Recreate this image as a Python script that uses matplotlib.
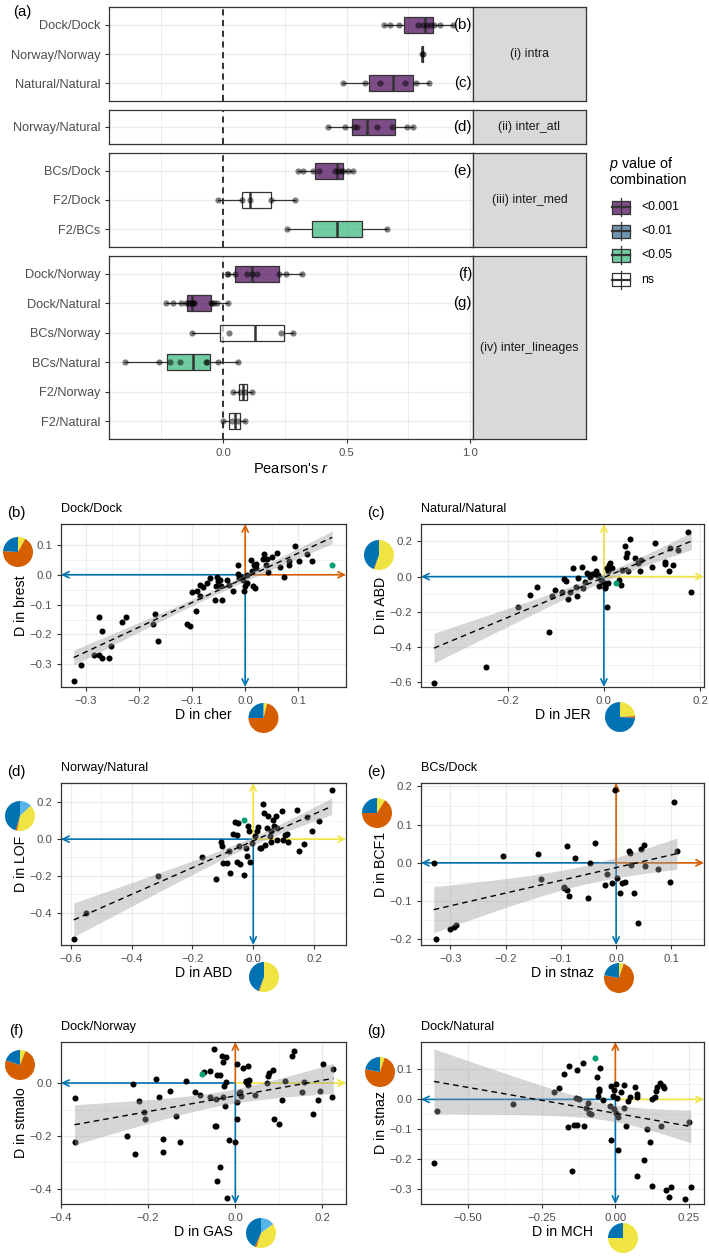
import numpy as np
import matplotlib.pyplot as plt
from matplotlib.colors import to_rgba
from matplotlib.patches import Rectangle

plt.rcParams['font.family'] = ['Liberation Sans', 'DejaVu Sans']
plt.rcParams['mathtext.fontset'] = 'custom'
plt.rcParams['mathtext.it'] = 'Liberation Sans:italic'
plt.rcParams['mathtext.rm'] = 'Liberation Sans'

# ---------------- data: panel (a), Pearson's r per combination ----------------
facet_names = ['(i) intra', '(ii) inter_atl', '(iii) inter_med', '(iv) inter_lineages']
facet_rows = [['Dock/Dock', 'Norway/Norway', 'Natural/Natural'],
              ['Norway/Natural'],
              ['BCs/Dock', 'F2/Dock', 'F2/BCs'],
              ['Dock/Norway', 'Dock/Natural', 'BCs/Norway', 'BCs/Natural', 'F2/Norway', 'F2/Natural']]

r_dock_dock = [0.652, 0.674, 0.714, 0.79, 0.81, 0.825, 0.84, 0.855, 0.88, 0.93]
r_norway_norway = [0.805, 0.81]
r_natural_natural = [0.485, 0.574, 0.636, 0.738, 0.781, 0.835]
r_norway_natural = [0.427, 0.495, 0.53, 0.544, 0.622, 0.683, 0.744, 0.771]
r_bcs_dock = [0.302, 0.323, 0.366, 0.389, 0.455, 0.465, 0.478, 0.487, 0.505, 0.528]
r_f2_dock = [-0.019, 0.078, 0.109, 0.193, 0.291]
r_f2_bcs = [0.258, 0.663]
r_dock_norway = [0.015, 0.022, 0.05, 0.096, 0.116, 0.136, 0.228, 0.255, 0.321]
r_dock_natural = [-0.232, -0.201, -0.170, -0.150, -0.140, -0.134, -0.127, -0.123,
                  -0.118, -0.05, -0.046, -0.035, -0.023, 0.021]
r_bcs_norway = [-0.127, 0.024, 0.235, 0.282]
r_bcs_natural = [-0.397, -0.258, -0.215, -0.174, -0.07, -0.063, -0.019, 0.062]
r_f2_norway = [0.042, 0.07, 0.09, 0.116]
r_f2_natural = [0.0, 0.035, 0.06, 0.089]

r_values = {'Dock/Dock': r_dock_dock, 'Norway/Norway': r_norway_norway,
            'Natural/Natural': r_natural_natural, 'Norway/Natural': r_norway_natural,
            'BCs/Dock': r_bcs_dock, 'F2/Dock': r_f2_dock, 'F2/BCs': r_f2_bcs,
            'Dock/Norway': r_dock_norway, 'Dock/Natural': r_dock_natural,
            'BCs/Norway': r_bcs_norway, 'BCs/Natural': r_bcs_natural,
            'F2/Norway': r_f2_norway, 'F2/Natural': r_f2_natural}

p_class = {'Dock/Dock': '<0.001', 'Norway/Norway': '<0.001', 'Natural/Natural': '<0.001',
           'Norway/Natural': '<0.001', 'BCs/Dock': '<0.001', 'F2/Dock': 'ns',
           'F2/BCs': '<0.05', 'Dock/Norway': '<0.001', 'Dock/Natural': '<0.001',
           'BCs/Norway': 'ns', 'BCs/Natural': '<0.05', 'F2/Norway': 'ns', 'F2/Natural': 'ns'}
p_levels = ['<0.001', '<0.01', '<0.05', 'ns']
p_colors = ['#440154', '#31688E', '#35B779', '#FFFFFF']

panel_refs = {'Dock/Dock': '(b)', 'Natural/Natural': '(c)', 'Norway/Natural': '(d)',
              'BCs/Dock': '(e)', 'Dock/Norway': '(f)', 'Dock/Natural': '(g)'}

# ---------------- data: scatter panels (x, y) ----------------
pts_b = np.array([(-0.309, -0.302), (-0.284, -0.268), (-0.275, -0.268), (-0.270, -0.280), (-0.275, -0.140),
    (-0.269, -0.187), (-0.257, -0.280), (-0.253, -0.238), (-0.233, -0.157), (-0.225, -0.140),
    (-0.174, -0.164), (-0.169, -0.131), (-0.165, -0.221), (-0.110, -0.166), (-0.103, -0.170),
    (-0.101, -0.059), (-0.091, -0.056), (-0.092, -0.121), (-0.086, -0.070), (-0.085, -0.036),
    (-0.079, -0.041), (-0.072, -0.028), (-0.067, -0.011), (-0.057, -0.084), (-0.055, -0.039),
    (-0.053, -0.006), (-0.052, -0.022), (-0.048, -0.017), (-0.046, -0.039), (-0.043, -0.084),
    (-0.035, -0.017), (-0.030, -0.036), (-0.022, -0.056), (-0.013, 0.034), (-0.014, 0.003),
    (-0.011, -0.011), (-0.008, -0.006), (-0.003, -0.056), (0.000, -0.039), (0.003, 0.000),
    (-0.005, -0.017), (0.003, -0.028), (0.011, 0.050), (0.013, 0.011), (0.014, -0.037),
    (0.016, 0.034), (0.019, -0.045), (0.020, 0.022), (0.021, 0.037), (0.033, 0.053),
    (0.035, 0.069), (0.040, 0.034), (0.041, 0.053), (0.043, 0.008), (0.050, 0.059),
    (0.060, 0.073), (0.066, 0.026), (0.074, -0.008), (0.082, 0.034), (0.082, 0.047),
    (0.093, 0.097), (0.101, 0.045), (0.117, 0.069), (0.126, 0.046), (-0.323, -0.356)])
green_b = (0.164, 0.031)

pts_c = np.array([(-0.245, -0.515), (-0.114, -0.316), (-0.178, -0.170), (-0.154, -0.104), (-0.140, -0.057),
    (-0.107, -0.108), (-0.102, -0.076), (-0.088, -0.085), (-0.083, -0.015), (-0.079, -0.023),
    (-0.074, -0.125), (-0.071, -0.085), (-0.065, 0.051), (-0.057, -0.057), (-0.055, -0.110),
    (-0.053, -0.006), (-0.046, 0.057), (-0.043, -0.066), (-0.040, -0.028), (-0.035, 0.023),
    (-0.029, 0.000), (-0.024, 0.013), (-0.020, 0.108), (-0.017, 0.034), (-0.015, 0.009),
    (-0.012, 0.009), (-0.010, -0.053), (-0.005, -0.019), (-0.001, -0.028), (0.002, -0.057),
    (0.003, -0.066), (0.006, -0.170), (0.006, 0.047), (0.009, 0.034), (0.011, 0.066),
    (0.012, 0.076), (0.009, -0.038), (0.016, 0.047), (0.032, -0.019), (0.035, -0.047),
    (0.037, 0.038), (0.044, 0.174), (0.047, 0.133), (0.046, 0.114), (0.054, 0.214),
    (0.051, 0.032), (0.064, 0.104), (0.075, 0.032), (0.078, 0.095), (0.071, 0.076),
    (0.099, 0.053), (0.107, 0.193), (0.127, 0.085), (0.127, 0.072), (0.136, 0.032),
    (0.143, 0.064), (0.137, 0.161), (0.155, 0.152), (0.175, 0.256), (0.182, -0.089),
    (-0.353, -0.604)])
green_c = (0.026, -0.034)

pts_d = np.array([(-0.3125, -0.200), (-0.170, -0.095), (-0.123, -0.219), (-0.107, -0.013), (-0.104, -0.035),
    (-0.101, -0.128), (-0.086, -0.131), (-0.079, -0.067), (-0.075, -0.182), (-0.066, 0.029),
    (-0.055, 0.024), (-0.060, 0.091), (-0.049, 0.087), (-0.053, -0.122), (-0.046, -0.040),
    (-0.042, -0.135), (-0.030, -0.195), (-0.022, -0.091), (-0.024, -0.049), (-0.016, 0.069),
    (-0.013, 0.042), (-0.009, -0.122), (-0.005, -0.022), (0.005, 0.015), (0.011, 0.042),
    (0.016, 0.066), (0.022, -0.049), (0.027, -0.049), (0.031, 0.191), (0.035, 0.142),
    (0.038, -0.031), (0.044, 0.060), (0.049, 0.124), (0.055, 0.015), (0.060, -0.018),
    (0.060, 0.042), (0.064, 0.106), (0.068, 0.069), (0.075, 0.124), (0.079, -0.004),
    (0.093, 0.155), (0.099, -0.007), (0.104, 0.024), (0.112, 0.027), (0.115, -0.013),
    (0.143, 0.157), (0.151, -0.064), (0.167, -0.027), (0.178, 0.120), (0.192, 0.047),
    (0.217, 0.097), (0.258, 0.270), (0.077, 0.060), (-0.590, -0.545), (-0.55, -0.40)])
green_d = (-0.030, 0.106)

pts_e = np.array([(-0.330, 0.0), (-0.205, 0.017), (-0.142, 0.024), (-0.135, -0.041), (-0.095, -0.067),
    (-0.094, -0.063), (-0.089, -0.071), (-0.089, 0.044), (-0.086, -0.086), (-0.074, 0.013),
    (-0.050, -0.091), (-0.048, 0.0), (-0.038, 0.052), (-0.021, -0.058), (-0.016, -0.028),
    (-0.008, -0.054), (-0.002, 0.190), (0.001, -0.039), (0.007, -0.080), (0.010, -0.054),
    (0.016, -0.050), (0.024, 0.031), (0.025, 0.027), (0.027, -0.006), (0.033, -0.080),
    (0.045, 0.037), (0.050, 0.046), (0.053, -0.007), (0.075, -0.017), (0.098, -0.051),
    (0.104, 0.159), (0.110, 0.031), (-0.325, -0.199), (-0.301, -0.173), (-0.293, -0.168),
    (-0.290, -0.163), (0.040, -0.158)])

pts_f = np.array([(-0.369, -0.057), (-0.367, -0.223), (-0.248, -0.199), (-0.235, -0.003), (-0.231, -0.268),
    (-0.221, -0.069), (-0.210, -0.111), (-0.208, -0.136), (-0.183, 0.016), (-0.175, -0.053),
    (-0.167, -0.259), (-0.165, -0.211), (-0.150, -0.029), (-0.136, -0.124), (-0.127, -0.223),
    (-0.113, 0.006), (-0.092, -0.035), (-0.081, -0.044), (-0.072, 0.042), (-0.059, 0.044),
    (-0.059, -0.053), (-0.050, 0.129), (-0.046, -0.162), (-0.044, -0.164), (-0.044, -0.061),
    (-0.042, 0.030), (-0.041, -0.371), (-0.036, 0.029), (-0.035, -0.318), (-0.031, 0.101),
    (-0.029, 0.080), (-0.028, -0.051), (-0.027, -0.010), (-0.023, -0.086), (-0.021, 0.097),
    (-0.021, 0.003), (-0.018, -0.433), (-0.015, -0.217), (0.0, -0.223), (0.004, -0.073),
    (0.005, 0.073), (0.008, -0.038), (0.010, -0.032), (0.013, -0.048), (0.017, 0.057),
    (0.025, 0.009), (0.025, 0.004), (0.028, -0.006), (0.031, 0.010), (0.003, -0.135),
    (0.029, 0.066), (0.046, -0.044), (0.073, 0.0), (0.075, 0.028), (0.077, 0.038),
    (0.087, 0.051), (0.088, -0.135), (0.100, -0.154), (0.106, -0.063), (0.114, 0.006),
    (0.131, 0.101), (0.135, 0.120), (0.154, -0.035), (0.158, 0.003), (0.179, -0.116),
    (0.190, -0.063), (0.194, -0.029), (0.201, 0.072), (0.225, 0.053), (0.223, -0.051)])
green_f = (-0.077, 0.035)

pts_g = np.array([(-0.616, -0.212), (-0.604, -0.038), (-0.347, -0.016), (-0.210, 0.024), (-0.193, 0.039),
    (-0.176, 0.085), (-0.161, -0.094), (-0.159, 0.112), (-0.147, -0.241), (-0.142, -0.086),
    (-0.133, 0.003), (-0.130, -0.086), (-0.130, 0.099), (-0.124, 0.0), (-0.111, 0.123),
    (-0.101, -0.030), (-0.094, -0.011), (-0.088, -0.044), (-0.082, -0.049), (-0.108, -0.090),
    (-0.062, 0.076), (-0.056, 0.034), (-0.054, 0.028), (-0.052, 0.104), (-0.060, 0.012),
    (-0.043, -0.002), (-0.015, 0.045), (-0.017, -0.021), (-0.016, -0.135), (-0.009, 0.012),
    (-0.006, -0.033), (-0.003, 0.031), (0.002, 0.052), (0.002, -0.045), (0.006, 0.003),
    (0.008, -0.058), (0.009, -0.168), (0.020, 0.026), (0.028, -0.028), (0.030, 0.048),
    (0.036, -0.089), (0.044, -0.006), (0.051, 0.007), (0.068, 0.043), (0.072, 0.017),
    (0.072, 0.009), (0.072, -0.255), (0.098, -0.204), (0.109, -0.098), (0.118, -0.143),
    (0.124, 0.0), (0.124, -0.291), (0.135, 0.007), (0.138, 0.028), (0.143, 0.040),
    (0.151, 0.054), (0.154, -0.090), (0.162, 0.045), (0.166, 0.039), (0.171, -0.303),
    (0.183, -0.328), (0.188, -0.294), (0.237, -0.333), (0.250, -0.075), (0.256, -0.294)])
green_g = (-0.068, 0.138)

# pie fractions, clockwise from 12 o'clock: light blue, yellow, orange, blue
pie_cols = ['#56B4E9', '#F0E442', '#D55E00', '#0072B2']
pie_brest = [0, 0.08, 0.68, 0.24]
pie_cher = [0, 0.04, 0.71, 0.25]
pie_abd = [0, 0.55, 0.01, 0.44]
pie_jer = [0, 0.24, 0.02, 0.74]
pie_lof = [0.13, 0.40, 0.02, 0.45]
pie_bcf1 = [0, 0.09, 0.66, 0.25]
pie_stnaz = [0, 0.05, 0.73, 0.22]
pie_stmalo = [0, 0.06, 0.74, 0.20]
pie_gas = [0.15, 0.40, 0.02, 0.43]
pie_mch = [0, 0.75, 0, 0.25]

BLUE, ORANGE, YELLOW, GREEN = '#0072B2', '#D55E00', '#F0E442', '#009E73'
DARK, GRID, TICKC = '#333333', '#ebebeb', '#4d4d4d'

W, H = 709, 1257
fig = plt.figure(figsize=(W / 100, H / 100), dpi=100)


def px_rect(l, t, r, b):
    return [l / W, 1 - b / H, (r - l) / W, (b - t) / H]


def ftext(x, y, s, **kw):
    fig.text(x / W, 1 - y / H, s, **kw)


def style_axes(ax):
    for sp in ax.spines.values():
        sp.set_color(DARK)
        sp.set_linewidth(0.9)
    ax.tick_params(colors=DARK, labelcolor=TICKC, length=2.7, width=0.8)
    ax.set_axisbelow(True)


# ---------------- panel (a) ----------------
facet_px = [(7, 101), (110, 144), (153, 247), (256, 439)]
xlim_a = (-0.4615, 1.012)
for k, (fname, rows, (top, bot)) in enumerate(zip(facet_names, facet_rows, facet_px)):
    ax = fig.add_axes(px_rect(109, top, 473, bot))
    style_axes(ax)
    n = len(rows)
    ax.axvline(0, color='black', ls=(0, (4, 3)), lw=1.1, zorder=1.5)
    for i, name in enumerate(rows):
        vals = r_values[name]
        col = p_colors[p_levels.index(p_class[name])]
        bp = ax.boxplot(vals, positions=[i], orientation='horizontal', widths=0.55,
                        patch_artist=True, showfliers=False, showcaps=False, manage_ticks=False,
                        medianprops=dict(color=DARK, lw=1.8),
                        boxprops=dict(edgecolor=DARK, lw=0.9),
                        whiskerprops=dict(color=DARK, lw=0.9), zorder=3)
        bp['boxes'][0].set_facecolor(to_rgba(col, 0.7))
        ax.scatter(vals, [i] * len(vals), s=20, color='black', alpha=0.5, lw=0, zorder=4)
        if name in panel_refs:
            ax.text(xlim_a[1] - 0.004, i, panel_refs[name], ha='right', va='center', fontsize=10.8)
    ax.set_xlim(*xlim_a)
    ax.set_ylim(n - 0.4, -0.6)
    ax.set_xticks([0, 0.5, 1.0])
    ax.set_xticks([-0.25, 0.25, 0.75], minor=True)
    ax.set_yticks(range(n))
    ax.set_yticklabels(rows, fontsize=9.2)
    ax.grid(which='major', color=GRID, lw=0.9)
    ax.grid(which='minor', axis='x', color=GRID, lw=0.6)
    ax.tick_params(axis='x', which='minor', length=0)
    if k < 3:
        ax.tick_params(axis='x', which='both', length=0, labelbottom=False)
    else:
        ax.set_xticklabels(['0.0', '0.5', '1.0'], fontsize=8.2)
    sax = fig.add_axes(px_rect(473, top, 586, bot))
    sax.set_facecolor('#d9d9d9')
    sax.set_xticks([])
    sax.set_yticks([])
    for sp in sax.spines.values():
        sp.set_color(DARK)
        sp.set_linewidth(0.9)
    sax.text(0.5, 0.5, fname, ha='center', va='center', fontsize=8.9, color='#1a1a1a',
             transform=sax.transAxes)

ftext(22, 12, '(a)', ha='center', va='center', fontsize=10.8)
ftext(291, 469, "Pearson's $r$", ha='center', va='center', fontsize=10.5)

# legend drawn in pixel space
ov = fig.add_axes([0, 0, 1, 1])
ov.set_xlim(0, W)
ov.set_ylim(H, 0)
ov.axis('off')
ftext(609, 171, '$p$ value of\ncombination', ha='left', va='center', fontsize=10.3,
      linespacing=1.0)
for j, (lev, col) in enumerate(zip(p_levels, p_colors)):
    yc = 207 + 24.2 * j
    ov.plot([621, 621], [yc - 9, yc + 9], color=DARK, lw=0.9)
    ov.add_patch(Rectangle((612, yc - 6.5), 18, 13, facecolor=to_rgba(col, 0.7),
                           edgecolor=DARK, lw=0.9))
    ov.plot([612, 630], [yc, yc], color=DARK, lw=1.6)
    ftext(641, yc, lev, ha='left', va='center', fontsize=8.8)


# ---------------- scatter panels ----------------
def fit_band(x, y):
    n = len(x)
    b1, b0 = np.polyfit(x, y, 1)
    xs = np.linspace(x.min(), x.max(), 100)
    yhat = b0 + b1 * xs
    res = y - (b0 + b1 * x)
    s = np.sqrt(np.sum(res ** 2) / (n - 2))
    se = s * np.sqrt(1 / n + (xs - x.mean()) ** 2 / np.sum((x - x.mean()) ** 2))
    t = 1.96 + 2.4 / (n - 2)
    return xs, yhat, yhat - t * se, yhat + t * se


def fmt(v, d):
    s = f'{v:.{d}f}'
    if abs(v) < 1e-9:
        s = f'{0:.{d}f}'
    return s.replace('-', '\u2212')


def pie(cx, cy, fracs, r=15):
    pax = fig.add_axes(px_rect(cx - r, cy - r, cx + r, cy + r))
    keep = [(f, c) for f, c in zip(fracs, pie_cols) if f > 0]
    pax.pie([f for f, c in keep], colors=[c for f, c in keep], startangle=90,
            counterclock=False, wedgeprops=dict(lw=0))
    pax.set_xlim(-1, 1)
    pax.set_ylim(-1, 1)
    pax.set_aspect('equal')


def scatter_panel(pos, pts, green, xlim, ylim, xticks, yticks, dec, up_col, right_col,
                  title, letter, xlabel, ylabel, pie_x, pie_y, pie_x_c, pie_y_c):
    l, t, r, b = pos
    ax = fig.add_axes(px_rect(l, t, r, b))
    style_axes(ax)
    aprops = dict(arrowstyle='->,head_length=0.45,head_width=0.22', lw=1.2,
                  shrinkA=0, shrinkB=0, mutation_scale=10)
    ax.annotate('', xy=(xlim[0], 0), xytext=(0, 0), arrowprops=dict(color=BLUE, **aprops), zorder=2)
    ax.annotate('', xy=(0, ylim[0]), xytext=(0, 0), arrowprops=dict(color=BLUE, **aprops), zorder=2)
    ax.annotate('', xy=(xlim[1], 0), xytext=(0, 0), arrowprops=dict(color=right_col, **aprops), zorder=2)
    ax.annotate('', xy=(0, ylim[1]), xytext=(0, 0), arrowprops=dict(color=up_col, **aprops), zorder=2)
    x, y = pts[:, 0], pts[:, 1]
    ax.scatter(x, y, s=19, color='black', lw=0, zorder=3)
    if green is not None:
        ax.scatter([green[0]], [green[1]], s=19, color=GREEN, lw=0, zorder=3)
        x = np.append(x, green[0])
        y = np.append(y, green[1])
    xs, yh, lo, hi = fit_band(x, y)
    ax.fill_between(xs, lo, hi, color='#999999', alpha=0.4, lw=0, zorder=4)
    ax.plot(xs, yh, color='black', lw=1.0, ls=(0, (4, 3)), zorder=5)
    ax.set_xlim(*xlim)
    ax.set_ylim(*ylim)
    ax.set_xticks(xticks)
    ax.set_yticks(yticks)
    ax.set_xticks(np.array(xticks[:-1]) + np.diff(xticks) / 2, minor=True)
    ax.set_yticks(np.array(yticks[:-1]) + np.diff(yticks) / 2, minor=True)
    ax.set_xticklabels([fmt(v, dec) for v in xticks], fontsize=8.2)
    ax.set_yticklabels([fmt(v, 1) for v in yticks], fontsize=8.2)
    ax.tick_params(which='minor', length=0)
    ax.grid(which='major', color=GRID, lw=0.9)
    ax.grid(which='minor', color=GRID, lw=0.45)
    ftext(l + 0.5, t - 15, title, ha='left', va='center', fontsize=9.1)
    ftext(l - 45, t - 11, letter, ha='center', va='center', fontsize=10.8)
    ftext((l + r) / 2, b + 28, xlabel, ha='center', va='center', fontsize=10.2)
    ftext(l - 40, (t + b) / 2, ylabel, ha='center', va='center', fontsize=10.2, rotation=90)
    pie(pie_x_c[0], pie_x_c[1], pie_x)
    pie(pie_y_c[0], pie_y_c[1], pie_y)


L, R = (61, 346), (421, 704)
ROWS = [(524, 687), (783, 945), (1042, 1204)]

scatter_panel((L[0], ROWS[0][0], L[1], ROWS[0][1]), pts_b, green_b, (-0.347, 0.19), (-0.376, 0.170),
              [-0.3, -0.2, -0.1, 0.0, 0.1], [-0.3, -0.2, -0.1, 0.0, 0.1], 1, ORANGE, ORANGE,
              'Dock/Dock', '(b)', 'D in cher', 'D in brest', pie_cher, pie_brest, (263.5, 718), (18, 552))
scatter_panel((R[0], ROWS[0][0], R[1], ROWS[0][1]), pts_c, green_c, (-0.380, 0.208), (-0.627, 0.299),
              [-0.2, 0.0, 0.2], [-0.6, -0.4, -0.2, 0.0, 0.2], 1, YELLOW, YELLOW,
              'Natural/Natural', '(c)', 'D in JER', 'D in ABD', pie_jer, pie_abd, (620, 717), (379, 555))
scatter_panel((L[0], ROWS[1][0], L[1], ROWS[1][1]), pts_d, green_d, (-0.632, 0.305), (-0.577, 0.306),
              [-0.6, -0.4, -0.2, 0.0, 0.2], [-0.4, -0.2, 0.0, 0.2], 1, YELLOW, YELLOW,
              'Norway/Natural', '(d)', 'D in ABD', 'D in LOF', pie_abd, pie_lof, (264, 977), (20, 816))
scatter_panel((R[0], ROWS[1][0], R[1], ROWS[1][1]), pts_e, None, (-0.353, 0.159), (-0.215, 0.209),
              [-0.3, -0.2, -0.1, 0.0, 0.1], [-0.2, -0.1, 0.0, 0.1, 0.2], 1, ORANGE, ORANGE,
              'BCs/Dock', '(e)', 'D in stnaz', 'D in BCF1', pie_stnaz, pie_bcf1, (619, 978), (377, 813))
scatter_panel((L[0], ROWS[2][0], L[1], ROWS[2][1]), pts_f, green_f, (-0.40, 0.254), (-0.457, 0.155),
              [-0.4, -0.2, 0.0, 0.2], [-0.4, -0.2, 0.0], 1, ORANGE, YELLOW,
              'Dock/Norway', '(f)', 'D in GAS', 'D in stmalo', pie_gas, pie_stmalo, (261, 1233), (20, 1065))
scatter_panel((R[0], ROWS[2][0], R[1], ROWS[2][1]), pts_g, green_g, (-0.66, 0.301), (-0.35, 0.192),
              [-0.5, -0.25, 0.0, 0.25], [-0.3, -0.2, -0.1, 0.0, 0.1], 2, ORANGE, YELLOW,
              'Dock/Natural', '(g)', 'D in MCH', 'D in stnaz', pie_mch, pie_stnaz, (623, 1238), (380, 1072))

fig.savefig('out.png', dpi=100)
